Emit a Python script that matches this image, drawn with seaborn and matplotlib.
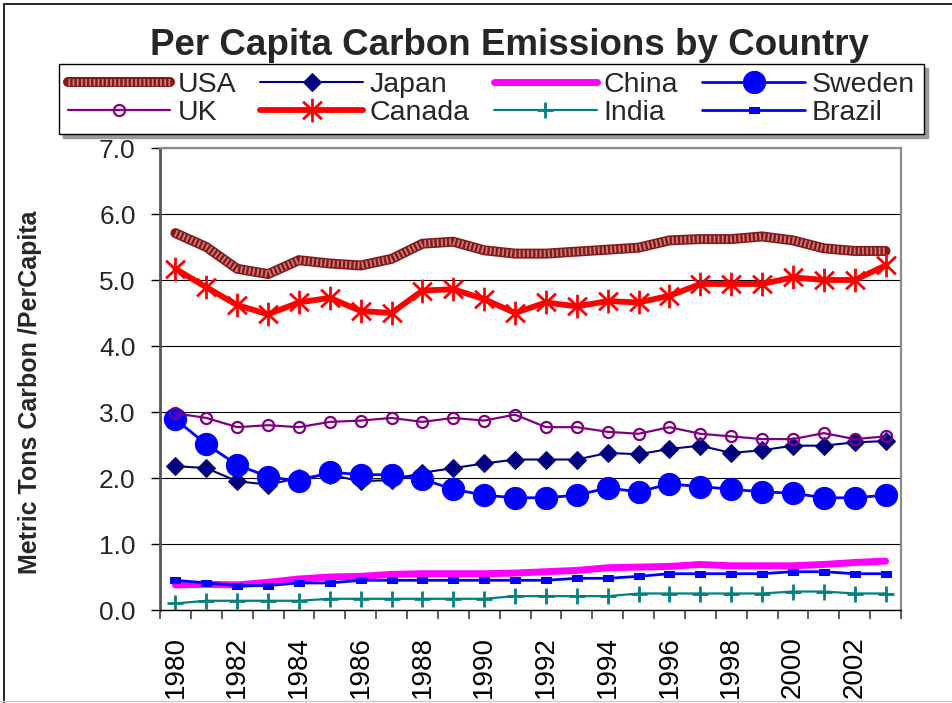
import numpy as np
import pandas as pd
import matplotlib
matplotlib.use("Agg")
import matplotlib.pyplot as plt
from matplotlib.path import Path
from matplotlib.lines import Line2D
from matplotlib.legend_handler import HandlerTuple
from matplotlib.ticker import FixedLocator, FormatStrFormatter
import seaborn as sns

# ---- data: metric tons of carbon per capita, 1980-2003 ----
years = list(range(1980, 2004))

usa = [5.71, 5.50, 5.17, 5.09, 5.30, 5.25, 5.22, 5.32, 5.55, 5.58, 5.45, 5.40,
       5.40, 5.43, 5.46, 5.49, 5.60, 5.62, 5.62, 5.66, 5.60, 5.48, 5.44, 5.44]
japan = [2.18, 2.15, 1.95, 1.90, 2.00, 2.05, 1.95, 1.97, 2.08, 2.15, 2.22, 2.28,
         2.28, 2.28, 2.38, 2.36, 2.44, 2.49, 2.38, 2.42, 2.49, 2.49, 2.54, 2.56]
china = [0.38, 0.39, 0.38, 0.42, 0.47, 0.50, 0.51, 0.54, 0.55, 0.55, 0.55, 0.56,
         0.58, 0.60, 0.64, 0.65, 0.66, 0.69, 0.67, 0.67, 0.67, 0.69, 0.72, 0.74]
sweden = [2.89, 2.51, 2.20, 2.02, 1.95, 2.09, 2.05, 2.05, 1.98, 1.83, 1.74, 1.70,
          1.70, 1.74, 1.85, 1.79, 1.91, 1.87, 1.83, 1.79, 1.77, 1.70, 1.70, 1.74]
uk = [2.98, 2.91, 2.77, 2.80, 2.77, 2.85, 2.87, 2.91, 2.85, 2.91, 2.87, 2.96,
      2.77, 2.77, 2.70, 2.67, 2.77, 2.67, 2.63, 2.59, 2.59, 2.68, 2.59, 2.63]
canada = [5.17, 4.89, 4.62, 4.48, 4.66, 4.73, 4.53, 4.50, 4.84, 4.86, 4.71, 4.50,
          4.66, 4.60, 4.68, 4.66, 4.76, 4.94, 4.94, 4.94, 5.04, 5.00, 5.00, 5.22]
india = [0.10, 0.14, 0.14, 0.14, 0.14, 0.17, 0.17, 0.17, 0.17, 0.17, 0.17, 0.21,
         0.21, 0.21, 0.21, 0.25, 0.25, 0.25, 0.25, 0.25, 0.28, 0.28, 0.25, 0.25]
brazil = [0.45, 0.41, 0.37, 0.37, 0.41, 0.41, 0.45, 0.45, 0.45, 0.45, 0.45, 0.45,
          0.45, 0.48, 0.48, 0.51, 0.55, 0.55, 0.55, 0.55, 0.58, 0.58, 0.55, 0.55]

countries = ["USA", "Japan", "China", "Sweden", "UK", "Canada", "India", "Brazil"]
series = [usa, japan, china, sweden, uk, canada, india, brazil]

df = pd.DataFrame({
    "country": np.repeat(countries, len(years)),
    "pos": np.tile(np.arange(len(years)), len(countries)),
    "value": np.concatenate(series),
})

# ---- styling ----
sns.set_theme(style="white")
plt.rcParams["font.family"] = ["Liberation Sans", "DejaVu Sans"]

# asterisk marker: vertical bar plus a cross
star_path = Path(
    [(0, -1), (0, 1), (-0.8, -0.75), (0.8, 0.75), (-0.8, 0.75), (0.8, -0.75)],
    [Path.MOVETO, Path.LINETO, Path.MOVETO, Path.LINETO, Path.MOVETO, Path.LINETO],
)
# flat rectangle marker
rect_path = Path(
    [(-1, -0.6), (1, -0.6), (1, 0.6), (-1, 0.6), (-1, -0.6)],
    [Path.MOVETO, Path.LINETO, Path.LINETO, Path.LINETO, Path.CLOSEPOLY],
)

styles = {
    "Japan": dict(color="#000080", lw=1.5, marker="D", ms=9.5, mfc="#000080", mec="#000080"),
    "China": dict(color="#FF00FF", lw=5.0, solid_capstyle="round"),
    "Sweden": dict(color="#0000FF", lw=2.0, marker="o", ms=16, mfc="#0000FF", mec="#0000FF"),
    "UK": dict(color="#800080", lw=1.6, marker="o", ms=8, mfc="none", mec="#800080", mew=1.6),
    "Canada": dict(color="#FF0000", lw=4.2, marker=star_path, ms=17, mec="#FF0000", mew=2.0),
    "India": dict(color="#008080", lw=1.6, marker="+", ms=11, mec="#008080", mew=2.0),
    "Brazil": dict(color="#0000FF", lw=2.0, marker=rect_path, ms=7, mfc="#0000FF", mec="#0000FF"),
}

fig = plt.figure(figsize=(9.52, 7.03), dpi=100)
fig.patch.set_facecolor("white")
ax = fig.add_axes([160 / 952, 1 - 610 / 703, 741 / 952, 462 / 703])
ax.set_facecolor("white")

handles = {}
for c in countries:
    sub = df[df["country"] == c]
    if c == "USA":
        # textured band: dark base with a fine light stipple on top
        sns.lineplot(data=sub, x="pos", y="value", ax=ax, color="#861818", lw=7.2,
                     legend=False, solid_joinstyle="miter")
        base = ax.lines[-1]
        sns.lineplot(data=sub, x="pos", y="value", ax=ax, color="#C98383", lw=5.0,
                     legend=False, linestyle=(0, (0.25, 0.35)))
        over = ax.lines[-1]
        handles[c] = (base, over)
    else:
        sns.lineplot(data=sub, x="pos", y="value", ax=ax, legend=False, **styles[c])
        handles[c] = ax.lines[-1]

# ---- axes ----
ax.set_xlim(-0.5, len(years) - 0.5)
ax.set_ylim(0, 7)
ax.set_yticks(np.arange(0, 8, 1))
ax.yaxis.set_major_formatter(FormatStrFormatter("%.1f"))
ax.grid(axis="y", color="black", lw=0.8)
ax.grid(axis="x", visible=False)
ax.set_axisbelow(True)

even = [i for i, y in enumerate(years) if y % 2 == 0]
ax.xaxis.set_major_locator(FixedLocator(even))
ax.set_xticklabels([str(years[i]) for i in even], rotation=90, fontsize=20)
ax.xaxis.set_minor_locator(FixedLocator(np.arange(-0.5, len(years), 1)))
ax.tick_params(axis="x", which="major", length=0, pad=19, labelsize=20, colors="black")
ax.tick_params(axis="x", which="minor", length=6.5, width=1.1, color="#333333",
               direction="out", bottom=True)
ax.tick_params(axis="y", which="major", length=6.5, width=1.0, color="black",
               direction="out", left=True, pad=11, labelsize=19)
ax.set_xlabel("")
ax.set_ylabel("")

for side in ["top", "right"]:
    ax.spines[side].set_color("#8C8C8C")
    ax.spines[side].set_linewidth(1.6)
ax.spines["left"].set_color("#555555")
ax.spines["left"].set_linewidth(2.0)
ax.spines["bottom"].set_color("black")
ax.spines["bottom"].set_linewidth(1.0)

fig.text(30 / 952, 1 - 392 / 703, "Metric Tons Carbon /PerCapita", rotation=90,
         ha="center", va="center", fontsize=18, fontweight="bold")

fig.text(510 / 952, 1 - 55 / 703, "Per Capita Carbon Emissions by Country",
         ha="center", va="baseline", fontsize=26.5, fontweight="bold")

# legend: row-wise reading order across 4 columns
order = ["USA", "UK", "Japan", "Canada", "China", "India", "Sweden", "Brazil"]
leg = fig.legend(
    [handles[c] for c in order], order,
    loc="center", bbox_to_anchor=(491.5 / 952, 1 - 99 / 703),
    ncol=4, fontsize=20.5, frameon=True, fancybox=False,
    shadow={"ox": 3, "oy": -3, "color": "#9A9A9A", "alpha": 1.0},
    edgecolor="black", framealpha=1.0,
    handlelength=3.6, handletextpad=0.25, columnspacing=0.85,
    labelspacing=0.05, borderpad=0.3, borderaxespad=0.0,
    handler_map={tuple: HandlerTuple(ndivide=1, pad=0)},
)
leg.get_frame().set_linewidth(1.0)

# outer chart frame
fig.add_artist(Line2D([4 / 952, 1], [1 - 4 / 703, 1 - 4 / 703], transform=fig.transFigure,
                      color="black", lw=1.2))
fig.add_artist(Line2D([4 / 952, 4 / 952], [0, 1 - 4 / 703], transform=fig.transFigure,
                      color="black", lw=1.2))
fig.add_artist(Line2D([0, 1], [2 / 703, 2 / 703], transform=fig.transFigure,
                      color="#C8C8C8", lw=1.0))

fig.savefig("out.png", dpi=100, facecolor="white")
